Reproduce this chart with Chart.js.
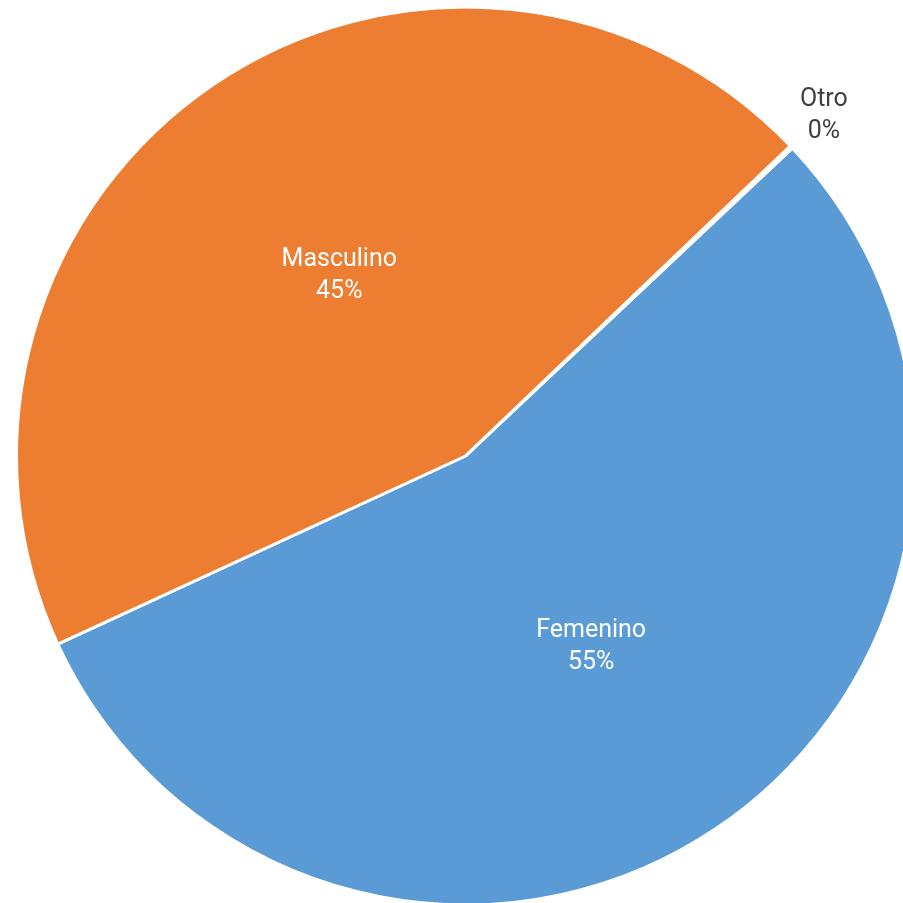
<!DOCTYPE html>
<html>
<head>
<meta charset="utf-8">
<script src="https://cdn.jsdelivr.net/npm/chart.js@4.4.0/dist/chart.umd.min.js"></script>
<style>
  html, body { margin: 0; padding: 0; background: #fff; }
  #wrap { position: relative; width: 903px; height: 903px; overflow: hidden; }
  #wrap canvas { position: absolute; left: 0; top: 0; }
</style>
</head>
<body>
<div id="wrap"><canvas id="pie" width="940" height="920"></canvas></div>
<script>
const categories = ['Femenino', 'Masculino', 'Otro'];
const values = [55.15, 44.75, 0.1];
const percentLabels = ['55%', '45%', '0%'];
const colors = ['#5B9BD5', '#ED7D31', '#A5A5A5'];

// draws "name / pct" labels: inside at half radius, tiny slices outside
const sliceLabels = {
    id: 'sliceLabels',
    afterDatasetsDraw(chart) {
        const ctx = chart.ctx;
        const arcs = chart.getDatasetMeta(0).data;
        ctx.save();
        ctx.font = '25px Roboto';
        ctx.textAlign = 'center';
        ctx.textBaseline = 'middle';
        arcs.forEach((arc, i) => {
            const mid = (arc.startAngle + arc.endAngle) / 2;
            const small = values[i] < 2;
            const r = small ? arc.outerRadius * 1.1 : arc.outerRadius * 0.5;
            const x = arc.x + Math.cos(mid) * r;
            const y = arc.y + Math.sin(mid) * r + (small ? 0 : 5);
            ctx.fillStyle = small ? '#404040' : '#ffffff';
            ctx.fillText(categories[i], x, y - 16);
            ctx.fillText(percentLabels[i], x, y + 16);
        });
        ctx.restore();
    }
};

new Chart(document.getElementById('pie'), {
    type: 'pie',
    data: {
        labels: categories,
        datasets: [{
            data: values,
            backgroundColor: colors,
            borderColor: '#ffffff',
            borderWidth: 3
        }]
    },
    options: {
        responsive: false,
        animation: false,
        rotation: 46.7,
        layout: { padding: { left: 15, top: 5, right: 24, bottom: 13 } },
        plugins: { legend: { display: false }, tooltip: { enabled: false } }
    },
    plugins: [sliceLabels]
});
</script>
</body>
</html>
